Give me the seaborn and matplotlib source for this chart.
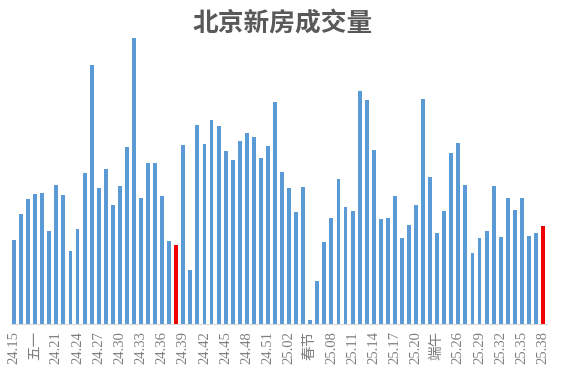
import pandas as pd
import matplotlib
matplotlib.use("Agg")
import matplotlib.pyplot as plt
import seaborn as sns

# weekly sales, 24.15 .. 25.38
vals_2024 = [84, 110, 125, 130, 131, 93, 139, 129, 73, 95, 151, 259,
             136, 155, 119, 138, 177, 286, 126, 161, 161, 128, 83, 79,
             179, 54, 199, 180, 204, 198, 173, 164, 183, 191, 187, 166,
             178, 222]
vals_2025 = [152, 136, 112, 137, 4, 43, 82, 106, 145, 117, 113, 233,
             224, 174, 105, 106, 128, 86, 99, 119, 225, 147, 91, 113,
             171, 181, 139, 71, 86, 93, 138, 87, 126, 114, 126, 88,
             91, 98]
values = vals_2024 + vals_2025

# same week of both years highlighted
red_idx = [23, 75]

tick_labels = ["24.15", "五一", "24.21", "24.24", "24.27", "24.30", "24.33",
               "24.36", "24.39", "24.42", "24.45", "24.48", "24.51", "25.02",
               "春节", "25.08", "25.11", "25.14", "25.17", "25.20", "端午",
               "25.26", "25.29", "25.32", "25.35", "25.38"]

df = pd.DataFrame({"pos": range(len(values)), "value": values})
df["hl"] = ["red" if i in red_idx else "blue" for i in df["pos"]]

fig = plt.figure(figsize=(5.65, 3.75), dpi=100)
ax = fig.add_axes([0.0186, 0.136, 0.9487, 0.80])

sns.barplot(data=df, x="pos", y="value", hue="hl", dodge=False,
            palette={"blue": "#5B9BD5", "red": "#F00000"},
            width=0.55, legend=False, ax=ax, saturation=1)

ax.set_ylim(0, 300)
ax.set_xlim(-0.5, len(values) - 0.5)
ax.set_yticks([])
ax.set_xlabel("")
ax.set_ylabel("")
for s in ["top", "right", "left"]:
    ax.spines[s].set_visible(False)
ax.spines["bottom"].set_color("#D9D9D9")
ax.spines["bottom"].set_linewidth(0.8)

ax.set_xticks(range(0, len(values), 3))
ax.set_xticklabels(tick_labels, rotation=90, fontsize=10.5, color="#7F7F7F",
                   family=["Liberation Serif", "Noto Sans CJK SC"])
ax.tick_params(axis="x", length=0, pad=5)

fig.text(0.5, 0.935, "北京新房成交量", ha="center", va="center",
         fontsize=18.5, fontweight="bold", color="#595959",
         family=["Noto Sans CJK SC", "DejaVu Sans"])

fig.savefig("out.png", dpi=100)
